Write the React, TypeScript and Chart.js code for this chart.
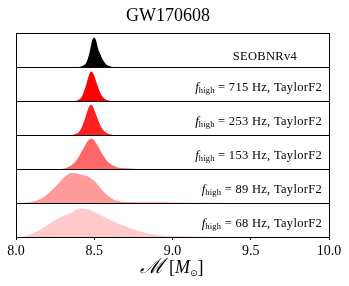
import React, { useEffect, useRef } from "react";
import { Chart, registerables } from "chart.js";

Chart.register(...registerables);

// ---------- data ----------
const TITLE = "GW170608";
const X_MIN = 8.0;
const X_MAX = 10.0;
const X_TICKS = [8.0, 8.5, 9.0, 9.5, 10.0];

const PANEL_LABELS = ["SEOBNRv4", "715", "253", "153", "89", "68"];

const seobX = [8.40, 8.42, 8.44, 8.45, 8.46, 8.47, 8.48, 8.49, 8.50, 8.51, 8.52, 8.53, 8.54, 8.55, 8.56, 8.57, 8.58, 8.60, 8.62];
const seobY = [0, 0.02, 0.07, 0.14, 0.26, 0.43, 0.65, 0.82, 0.87, 0.80, 0.62, 0.46, 0.36, 0.26, 0.17, 0.11, 0.06, 0.02, 0];

const f715X = [8.38, 8.40, 8.42, 8.44, 8.45, 8.46, 8.47, 8.48, 8.49, 8.50, 8.51, 8.52, 8.53, 8.54, 8.56, 8.58, 8.60, 8.62];
const f715Y = [0, 0.04, 0.12, 0.35, 0.50, 0.67, 0.80, 0.87, 0.84, 0.74, 0.60, 0.47, 0.34, 0.22, 0.09, 0.03, 0.01, 0];

const f253X = [8.36, 8.38, 8.40, 8.42, 8.44, 8.45, 8.46, 8.47, 8.48, 8.49, 8.50, 8.51, 8.52, 8.53, 8.54, 8.56, 8.58, 8.60, 8.63];
const f253Y = [0, 0.03, 0.08, 0.22, 0.47, 0.62, 0.76, 0.86, 0.89, 0.85, 0.74, 0.62, 0.50, 0.38, 0.27, 0.13, 0.06, 0.02, 0];

const f153X = [8.28, 8.30, 8.32, 8.34, 8.36, 8.38, 8.40, 8.42, 8.44, 8.46, 8.48, 8.50, 8.52, 8.54, 8.56, 8.58, 8.60, 8.62, 8.64, 8.66, 8.70, 8.75, 8.80];
const f153Y = [0, 0.01, 0.03, 0.07, 0.13, 0.22, 0.35, 0.52, 0.68, 0.83, 0.90, 0.84, 0.70, 0.53, 0.38, 0.25, 0.16, 0.10, 0.06, 0.04, 0.02, 0.01, 0];

const f89X = [8.00, 8.05, 8.10, 8.15, 8.20, 8.25, 8.28, 8.30, 8.33, 8.36, 8.39, 8.42, 8.45, 8.48, 8.51, 8.54, 8.57, 8.60, 8.63, 8.66, 8.70, 8.80, 8.90, 9.00, 9.10, 9.20, 9.30];
const f89Y = [0, 0.01, 0.03, 0.10, 0.26, 0.47, 0.62, 0.72, 0.84, 0.88, 0.87, 0.83, 0.80, 0.72, 0.60, 0.44, 0.29, 0.17, 0.09, 0.05, 0.03, 0.025, 0.02, 0.015, 0.01, 0.004, 0];

const f68X = [8.00, 8.04, 8.07, 8.10, 8.14, 8.18, 8.22, 8.26, 8.30, 8.33, 8.36, 8.39, 8.42, 8.45, 8.48, 8.51, 8.55, 8.59, 8.63, 8.67, 8.72, 8.77, 8.82, 8.87, 8.92, 9.00, 9.10, 9.20, 9.30];
const f68Y = [0, 0.01, 0.04, 0.10, 0.18, 0.29, 0.41, 0.52, 0.62, 0.68, 0.73, 0.81, 0.84, 0.82, 0.78, 0.72, 0.62, 0.53, 0.45, 0.37, 0.28, 0.20, 0.13, 0.08, 0.05, 0.03, 0.015, 0.005, 0];

const SERIES_X = [seobX, f715X, f253X, f153X, f89X, f68X];
const SERIES_Y = [seobY, f715Y, f253Y, f153Y, f89Y, f68Y];
const COLORS = ["#000000", "#ff0000", "#ff2121", "#ff6868", "#ff9b9b", "#ffcaca"];

const SERIF = "'Liberation Serif', 'DejaVu Serif', serif";

type Part = { t: string; font: string; dy?: number; ls?: number };

function partWidth(ctx: CanvasRenderingContext2D, p: Part) {
  ctx.font = p.font;
  (ctx as any).letterSpacing = `${p.ls || 0}px`;
  return ctx.measureText(p.t).width;
}

function drawRich(ctx: CanvasRenderingContext2D, parts: Part[], rightX: number, baseY: number) {
  let total = 0;
  for (const p of parts) total += partWidth(ctx, p);
  let x = rightX - total;
  ctx.textAlign = "left";
  ctx.textBaseline = "alphabetic";
  for (const p of parts) {
    const w = partWidth(ctx, p);
    ctx.fillText(p.t, x, baseY + (p.dy || 0));
    x += w;
  }
  (ctx as any).letterSpacing = "0px";
}

const decor = {
  id: "panelDecor",
  afterDatasetsDraw(chart: any) {
    const ctx: CanvasRenderingContext2D = chart.ctx;
    const area = chart.chartArea;
    ctx.save();
    ctx.strokeStyle = "#000";
    ctx.lineWidth = 1;
    ctx.fillStyle = "#000";
    PANEL_LABELS.forEach((lab, i) => {
      const s = chart.scales["y" + i];
      const top = Math.round(s.top) + 0.5;
      const bot = Math.round(s.bottom) + 0.5;
      const l = Math.round(area.left) + 0.5;
      const r = Math.round(area.right) + 0.5;
      ctx.strokeRect(l, top, r - l, bot - top);
      if (i === 0) {
        drawRich(ctx, [{ t: lab, font: `12.5px ${SERIF}`, ls: 0.3 }], 297, s.bottom - 7);
      } else {
        drawRich(
          ctx,
          [
            { t: "f", font: `italic 13px ${SERIF}` },
            { t: "high", font: `8.5px ${SERIF}`, dy: 2.5, ls: 0.2 },
            { t: ` = ${lab} Hz, TaylorF2`, font: `12.5px ${SERIF}`, ls: 0.3 },
          ],
          322,
          s.bottom - 10.5
        );
      }
    });
    ctx.restore();
  },
  afterDraw(chart: any) {
    const ctx: CanvasRenderingContext2D = chart.ctx;
    ctx.save();
    ctx.fillStyle = "#000";
    ctx.textAlign = "center";
    ctx.textBaseline = "alphabetic";
    ctx.font = `18px ${SERIF}`;
    ctx.fillText(TITLE, 168, 21);
    // x-axis label:  ℳ [M⊙]
    const parts: Part[] = [
      { t: "\u2133", font: `italic 21px 'DejaVu Serif', serif` },
      { t: " [", font: `18px ${SERIF}` },
      { t: "M", font: `italic 18px ${SERIF}` },
      { t: "\u2299", font: `9px 'DejaVu Sans', sans-serif`, dy: 3 },
      { t: "]", font: `18px ${SERIF}` },
    ];
    let total = 0;
    for (const p of parts) total += partWidth(ctx, p);
    drawRich(ctx, parts, 172 + total / 2, 273);
    ctx.restore();
  },
};

export default function App() {
  const ref = useRef<HTMLCanvasElement | null>(null);
  useEffect(() => {
    document.body.style.margin = "0";
    const canvas = ref.current!;
    const scales: any = {
      x: {
        type: "linear",
        position: "bottom",
        min: X_MIN,
        max: X_MAX,
        afterBuildTicks: (s: any) => {
          s.ticks = X_TICKS.map((v) => ({ value: v }));
        },
        afterFit: (s: any) => {
          s.height = 49;
        },
        ticks: {
          color: "#000",
          font: { family: SERIF, size: 14 },
          padding: 3,
          maxRotation: 0,
          autoSkip: false,
          callback: (v: any) => Number(v).toFixed(1),
        },
        grid: { drawOnChartArea: false, drawTicks: true, tickLength: 3, color: "#000", lineWidth: 1 },
        border: { display: true, color: "#000", width: 1 },
      },
    };
    PANEL_LABELS.forEach((_, i) => {
      scales["y" + i] = {
        type: "linear",
        position: "right",
        stack: "panels",
        stackWeight: 1,
        min: 0,
        max: 1,
        offset: false,
        ticks: { display: false },
        grid: { display: false, drawTicks: false },
        border: { display: false },
        title: { display: false },
      };
    });
    const datasets = SERIES_X.map((xs, i) => ({
      label: PANEL_LABELS[i],
      data: xs.map((x, j) => ({ x, y: SERIES_Y[i][j] })),
      yAxisID: "y" + i,
      xAxisID: "x",
      backgroundColor: COLORS[i],
      borderColor: COLORS[i],
      borderWidth: 0,
      pointRadius: 0,
      fill: "origin",
      cubicInterpolationMode: "monotone",
    }));
    const chart = new Chart(canvas, {
      type: "line",
      data: { datasets },
      options: {
        animation: false,
        responsive: false,
        maintainAspectRatio: false,
        devicePixelRatio: 1,
        layout: { padding: { left: 16, right: 20, top: 33, bottom: 0 } },
        plugins: { legend: { display: false }, title: { display: false }, tooltip: { enabled: false } },
        events: [],
        scales,
      },
      plugins: [decor],
    } as any);
    return () => chart.destroy();
  }, []);
  return <canvas ref={ref} width={349} height={286} style={{ display: "block" }} />;
}
